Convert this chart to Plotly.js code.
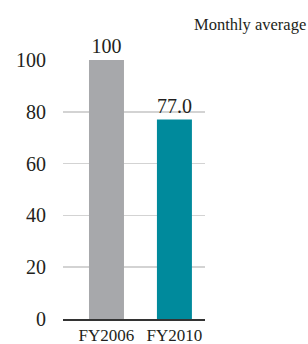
<!DOCTYPE html>
<html>
<head>
<meta charset="utf-8">
<script src="https://cdn.plot.ly/plotly-3.0.1.min.js"></script>
<style>html,body{margin:0;padding:0;background:#fff;}#chart{width:308px;height:344px;}</style>
</head>
<body>
<div id="chart"></div>
<script>
const categories = ["FY2006", "FY2010"];
const values = [100, 77.0];
const valueLabels = ["100", "77.0"];
const barColors = ["#a7a8ab", "#008a9c"];
const yTicks = [0, 20, 40, 60, 80, 100];
const unitNote = "Monthly average";

const serif = "Liberation Serif, Times New Roman, serif";
const trace = {
  type: "bar",
  x: [0, 1],
  y: values,
  text: valueLabels,
  textposition: "outside",
  textfont: {family: serif, size: 20, color: "#231f20"},
  cliponaxis: false,
  width: 0.515,
  marker: {color: barColors, line: {width: 0}},
  hoverinfo: "none"
};
const layout = {
  width: 308, height: 344,
  margin: {l: 63, r: 103, t: 59.5, b: 25},
  paper_bgcolor: "#fff", plot_bgcolor: "#fff",
  showlegend: false,
  font: {family: serif, color: "#231f20"},
  xaxis: {
    range: [-0.64, 1.45],
    tickmode: "array", tickvals: [0, 1], ticktext: categories,
    tickfont: {family: serif, size: 17, color: "#231f20"},
    showgrid: false, zeroline: false,
    showline: true, linecolor: "#333333", linewidth: 2,
    ticks: "", 
    fixedrange: true
  },
  yaxis: {
    range: [0, 100],
    tickmode: "array", tickvals: yTicks,
    tickfont: {family: serif, size: 20, color: "#231f20"},
    showgrid: true, gridcolor: "#d3d3d3", gridwidth: 1.5,
    zeroline: false, showline: false,
    ticks: "outside", ticklen: 12, tickcolor: "rgba(0,0,0,0)",
    fixedrange: true
  },
  annotations: [{
    text: unitNote, xref: "paper", yref: "paper",
    x: 1, xshift: 103, xanchor: "right",
    y: 1, yshift: 36, yanchor: "middle",
    showarrow: false,
    font: {family: serif, size: 16.5, color: "#231f20"}
  }]
};
Plotly.newPlot("chart", [trace], layout, {displayModeBar: false, staticPlot: true});
</script>
</body>
</html>
